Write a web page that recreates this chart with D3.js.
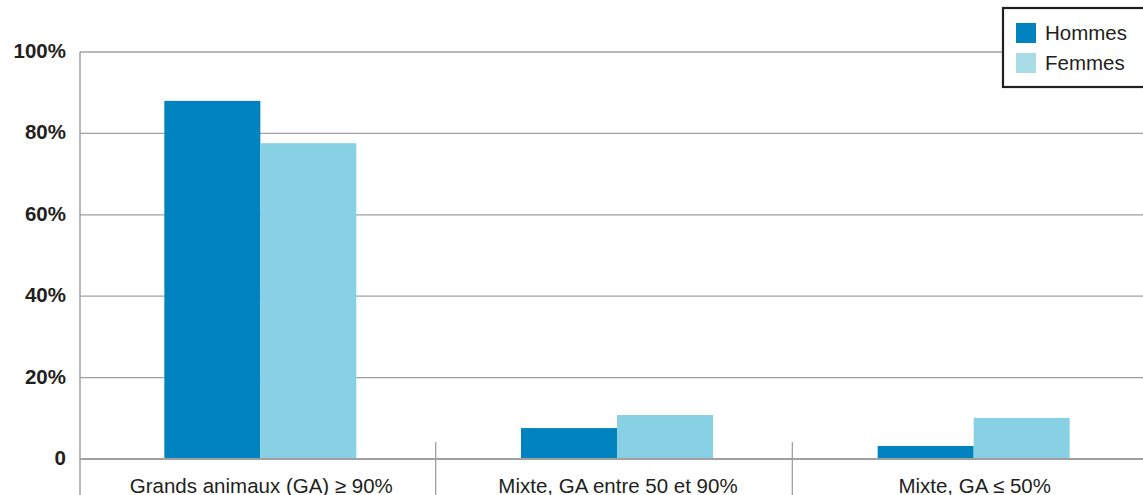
<!DOCTYPE html>
<meta charset='utf-8'>
<style>
	body { margin: 0; background: #fff; }
	text { font-family: "Liberation Sans", Arial, sans-serif; fill: #231f20; }
	.ytick text { font-weight: bold; font-size: 20.5px; }
	.grid { stroke: #a0a0a0; stroke-width: 1.3px; }
</style>
<div class="chart"></div>
<script src="https://d3js.org/d3.v7.min.js"></script>
<script>
	var categories = ["Grands animaux (GA) \u2265 90%", "Mixte, GA entre 50 et 90%", "Mixte, GA \u2264 50%"];
	var series = ["Hommes", "Femmes"];
	var hommes = [88, 7.6, 3.2];
	var femmes = [77.6, 10.8, 10.1];
	var yTicks = [0, 20, 40, 60, 80, 100];
	var colors = ["#0083be", "#88d1e5"];
	var legendColors = ["#0083be", "#a8dce7"];

	var width = 1143, height = 495;
	var svg = d3.select(".chart").append("svg")
		.attr("width", width)
		.attr("height", height)
		.style("display", "block");

	var mLeft = 80, mRight = 1150, mTop = 52, mBottom = 459;

	var x0 = d3.scaleBand().domain(categories).range([mLeft, mRight]);
	var x1 = d3.scaleBand().domain(series).range([0, 192]);
	var y = d3.scaleLinear().domain([0, 100]).range([mBottom, mTop]);

	// horizontal grid lines
	svg.append("g").selectAll("line")
		.data(yTicks.filter(function(d) { return d > 0; }))
		.enter().append("line")
		.attr("class", "grid")
		.attr("x1", mLeft).attr("x2", mRight)
		.attr("y1", function(d) { return y(d); })
		.attr("y2", function(d) { return y(d); });

	// y tick labels
	svg.append("g").attr("class", "ytick").selectAll("text")
		.data(yTicks)
		.enter().append("text")
		.attr("x", 66)
		.attr("y", function(d) { return y(d) + 6; })
		.attr("text-anchor", "end")
		.text(function(d) { return d === 0 ? "0" : d + "%"; });

	// bars
	var rows = categories.map(function(c, i) {
		return { cat: c, vals: [hommes[i], femmes[i]] };
	});
	var groups = svg.append("g").selectAll("g")
		.data(rows)
		.enter().append("g")
		.attr("transform", function(d) {
			return "translate(" + (x0(d.cat) + x0.bandwidth() / 2 - 96 + 2) + ",0)";
		});
	groups.selectAll("rect")
		.data(function(d) { return d.vals.map(function(v, j) { return { s: series[j], v: v, j: j }; }); })
		.enter().append("rect")
		.attr("x", function(d) { return x1(d.s); })
		.attr("width", x1.bandwidth())
		.attr("y", function(d) { return y(d.v); })
		.attr("height", function(d) { return y(0) - y(d.v); })
		.attr("fill", function(d) { return colors[d.j]; });

	// axes
	svg.append("line").attr("class", "grid")
		.attr("x1", mLeft).attr("x2", mLeft).attr("y1", mTop).attr("y2", height)
		.style("stroke-width", "1.5px");
	svg.append("line").attr("class", "grid")
		.attr("x1", mLeft).attr("x2", mRight).attr("y1", mBottom).attr("y2", mBottom)
		.style("stroke-width", "2px");
	svg.append("g").selectAll("line")
		.data(categories.slice(1))
		.enter().append("line")
		.attr("class", "grid")
		.attr("x1", function(d) { return x0(d) - 1; })
		.attr("x2", function(d) { return x0(d) - 1; })
		.attr("y1", 442).attr("y2", height);

	// category labels
	svg.append("g").selectAll("text")
		.data(categories)
		.enter().append("text")
		.attr("x", function(d) { return x0(d) + x0.bandwidth() / 2 + 3; })
		.attr("y", 493)
		.attr("text-anchor", "middle")
		.style("font-size", "20.5px")
		.text(function(d) { return d; });

	// legend
	var legend = svg.append("g").attr("transform", "translate(1003,8)");
	legend.append("rect")
		.attr("width", 150).attr("height", 79)
		.attr("fill", "#fff").attr("stroke", "#231f20").attr("stroke-width", 2.2);
	var items = legend.selectAll(".item")
		.data(series)
		.enter().append("g")
		.attr("transform", function(d, i) { return "translate(13," + (15 + i * 30) + ")"; });
	items.append("rect")
		.attr("width", 20).attr("height", 20)
		.attr("fill", function(d, i) { return legendColors[i]; });
	items.append("text")
		.attr("x", 29).attr("y", 17)
		.style("font-size", "20.5px")
		.text(function(d) { return d; });
</script>
